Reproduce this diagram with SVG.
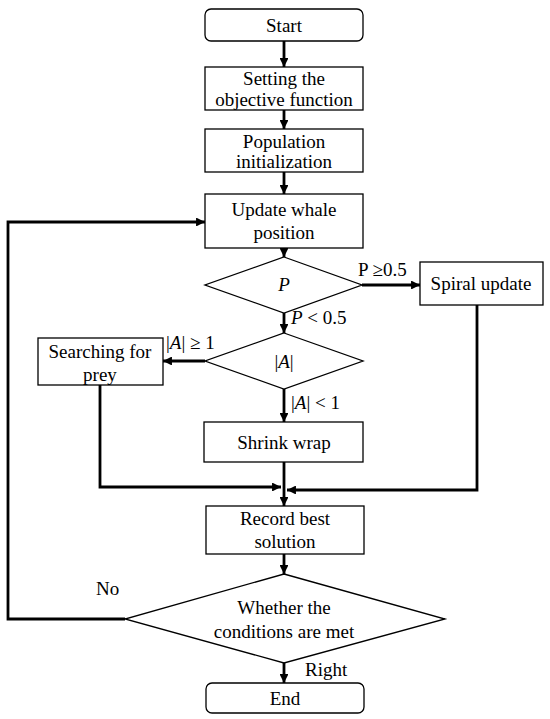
<svg xmlns="http://www.w3.org/2000/svg" width="550" height="719" viewBox="0 0 550 719">
<defs>
<marker id="ah" viewBox="0 0 10 10" refX="10" refY="5" markerWidth="3.2" markerHeight="3.2" orient="auto" markerUnits="strokeWidth">
<path d="M0,0 L10,5 L0,10 z" fill="#000"/>
</marker>
<style>
.box{fill:#fff;stroke:#000;stroke-width:1.3}
text{font-family:'Liberation Serif','Times New Roman',serif;font-size:19px;fill:#000}
.t{text-anchor:middle}
.m{font-style:italic}
.c{fill:none;stroke:#000;stroke-width:2.8;marker-end:url(#ah)}
</style>
</defs>
<rect width="550" height="719" fill="#fff"/>
<g id="connectors">
<path class="c" d="M284,41 V67"/>
<path class="c" d="M284,110 V129"/>
<path class="c" d="M284,172 V194"/>
<path class="c" d="M284,248 V257"/>
<path class="c" d="M284,313 V333"/>
<path class="c" d="M362,285 H420"/>
<path class="c" d="M205,361 H163"/>
<path class="c" d="M284,389 V422"/>
<path class="c" d="M284,462 V506"/>
<path class="c" d="M100,385 V487 H281"/>
<path class="c" d="M477,305 V490 H287"/>
<path class="c" d="M284,554 V574"/>
<path class="c" d="M284,663 V683"/>
<path class="c" d="M125,619 H8 V222 H205"/>
</g>
<g id="start"><rect class="box" x="205" y="9" width="158" height="32" rx="6"/><text class="t" x="284" y="32">Start</text></g>
<g id="setting"><rect class="box" x="205" y="67" width="158" height="43"/><text class="t" x="284" y="85">Setting the</text><text class="t" x="284" y="106">objective function</text></g>
<g id="population"><rect class="box" x="205" y="129" width="158" height="43"/><text class="t" x="284" y="148">Population</text><text class="t" x="284" y="168">initialization</text></g>
<g id="update"><rect class="box" x="205" y="194" width="158" height="54"/><text class="t" x="284" y="216">Update whale</text><text class="t" x="284" y="239">position</text></g>
<g id="decisionP"><polygon class="box" points="284,257 362,285 284,313 205,285"/><text class="t m" x="284" y="291">P</text></g>
<g id="spiral"><rect class="box" x="420" y="262" width="123" height="43"/><text class="t" x="481" y="290">Spiral update</text></g>
<g id="decisionA"><polygon class="box" points="284,333 363,361 284,389 205,361"/><text class="t" x="284" y="368">|<tspan class="m">A</tspan>|</text></g>
<g id="searching"><rect class="box" x="38" y="338" width="125" height="47"/><text class="t" x="100" y="358">Searching for</text><text class="t" x="100" y="381">prey</text></g>
<g id="shrink"><rect class="box" x="204" y="422" width="159" height="40"/><text class="t" x="284" y="449">Shrink wrap</text></g>
<g id="record"><rect class="box" x="206" y="506" width="158" height="48"/><text class="t" x="285" y="525">Record best</text><text class="t" x="285" y="548">solution</text></g>
<g id="condition"><polygon class="box" points="284,574 445,619 284,663 125,619"/><text class="t" x="284" y="614">Whether the</text><text class="t" x="284" y="638">conditions are met</text></g>
<g id="end"><rect class="box" x="206" y="683" width="158" height="30" rx="6"/><text class="t" x="285" y="705">End</text></g>
<g id="labels">
<text x="358" y="276">P ≥0.5</text>
<text x="291" y="324"><tspan class="m">P</tspan> &lt; 0.5</text>
<text x="166" y="349">|<tspan class="m">A</tspan>| ≥ 1</text>
<text x="291" y="409">|<tspan class="m">A</tspan>| &lt; 1</text>
<text x="96" y="595">No</text>
<text x="305" y="676">Right</text>
</g>
</svg>
